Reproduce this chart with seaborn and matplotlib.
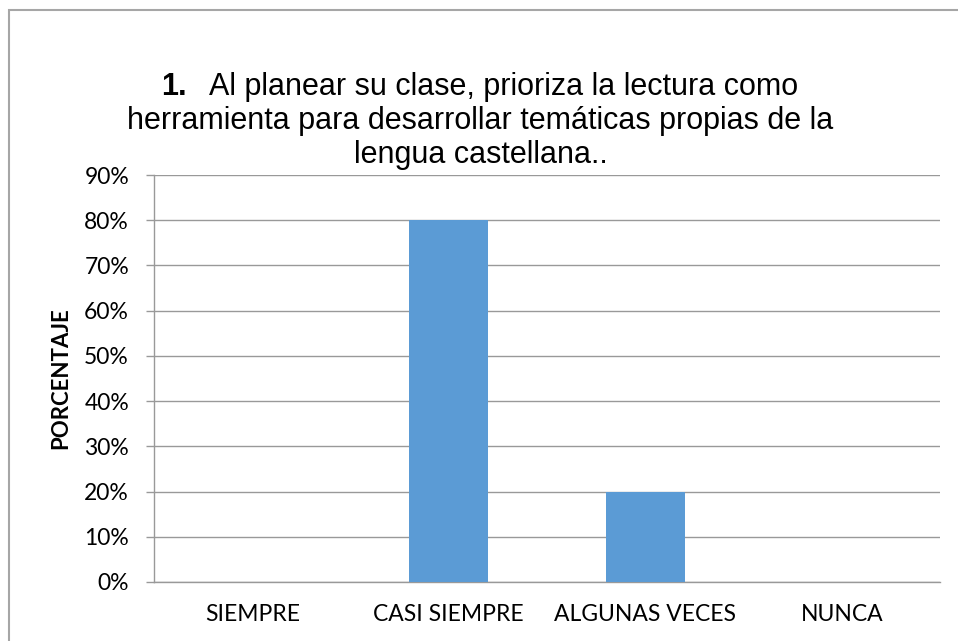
import matplotlib
matplotlib.use("Agg")
import matplotlib.pyplot as plt
import seaborn as sns
import pandas as pd
from matplotlib.ticker import PercentFormatter, MultipleLocator
from matplotlib.patches import Rectangle

categories = ["SIEMPRE", "CASI SIEMPRE", "ALGUNAS VECES", "NUNCA"]
values = [0.0, 0.80, 0.20, 0.0]
title_num = "1."
title_lines = ["Al planear su clase, prioriza la lectura como",
               "herramienta para desarrollar temáticas propias de la",
               "lengua castellana.."]
y_label = "PORCENTAJE"

sns.set_theme(style="white")
plt.rcParams['font.family'] = ['Lato', 'DejaVu Sans']

W, H = 958, 641
fig = plt.figure(figsize=(W / 100, H / 100), dpi=100)
ax = fig.add_axes([154 / W, 1 - 582 / H, (940 - 154) / W, (582 - 175) / H])

df = pd.DataFrame({"cat": categories, "val": values})
sns.barplot(data=df, x="cat", y="val", color="#5B9BD5", width=0.4,
            saturation=1, ax=ax, zorder=3, linewidth=0)

grid_c = "#999999"
ax.set_ylim(0, 0.9)
ax.yaxis.set_major_locator(MultipleLocator(0.1))
ax.yaxis.set_major_formatter(PercentFormatter(1.0, decimals=0))
ax.grid(axis="y", color=grid_c, linewidth=1, zorder=0)
ax.set_axisbelow(True)
for s in ["top", "right"]:
    ax.spines[s].set_visible(False)
for s in ["left", "bottom"]:
    ax.spines[s].set_color(grid_c)
    ax.spines[s].set_linewidth(1)
ax.tick_params(axis="y", which="major", length=6, width=1, color=grid_c,
               direction="out", left=True, labelsize=16.5, pad=12, labelcolor="#000000")
ax.tick_params(axis="x", length=0, labelsize=16.5, pad=16, labelcolor="#000000")
ax.set_xlabel("")
ax.set_ylabel(y_label, fontsize=16, fontweight="bold", labelpad=9, color="#000000")

# Title
tfont = ["Liberation Sans", "DejaVu Sans"]
fs = 22
fig.text(161 / W, 1 - 95 / H, title_num, ha="left", va="baseline",
         fontsize=fs, family=tfont, fontweight="bold", color="#000000")
fig.text(209 / W, 1 - 95 / H, title_lines[0], ha="left", va="baseline",
         fontsize=fs, family=tfont, color="#000000")
fig.text(480 / W, 1 - 129 / H, title_lines[1], ha="center", va="baseline",
         fontsize=fs, family=tfont, color="#000000")
fig.text(481 / W, 1 - 163 / H, title_lines[2], ha="center", va="baseline",
         fontsize=fs, family=tfont, color="#000000")

# Chart border
fig.patches.append(Rectangle((9 / W, -0.1), 1.2, 1.1 - 10 / H,
                             transform=fig.transFigure, fill=False,
                             edgecolor="#A6A6A6", linewidth=1.5, clip_on=False))

fig.savefig("out.png", dpi=100)
